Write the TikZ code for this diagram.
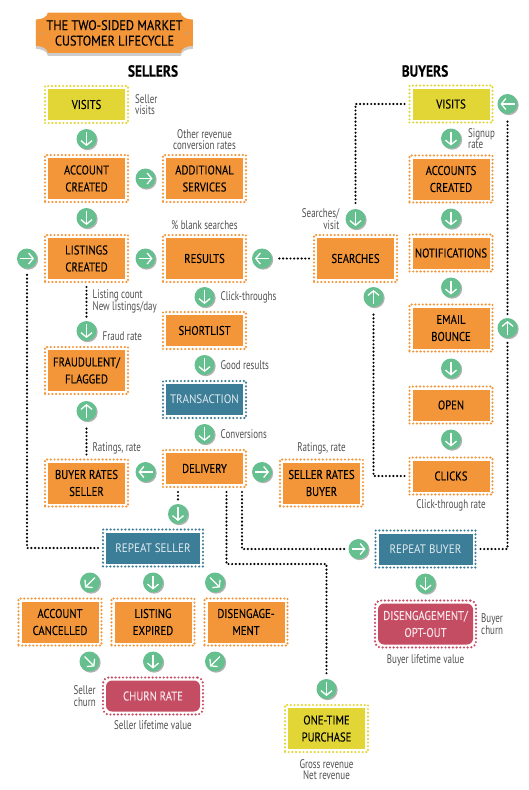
\documentclass[tikz,border=0pt]{standalone}
\usepackage{fontspec}
\usepackage{xcolor}
\usepackage{tikz}
\usetikzlibrary{arrows.meta, positioning, calc, shadows, backgrounds}
\setmainfont{PT Sans}
\newfontfamily\boxfamily[FakeStretch=0.84, FakeBold=0.12]{PT Sans}
\newfontfamily\tealfamily[FakeStretch=0.9]{PT Sans}
\newfontfamily\titlefamily[FakeStretch=0.88, FakeBold=0.12]{PT Sans}
\newfontfamily\notefamily[FakeStretch=0.72]{PT Sans}
\newcommand{\boxfont}{\boxfamily\fontsize{12.7}{17}\selectfont}
\newcommand{\tealfont}{\tealfamily\fontsize{12.3}{17}\selectfont}
\newcommand{\notefont}{\notefamily\fontsize{12.5}{11.5}\selectfont}
\definecolor{boxorange}{RGB}{243, 150, 58}
\definecolor{boxyellow}{RGB}{226, 214, 54}
\definecolor{boxteal}{RGB}{60, 125, 152}
\definecolor{churnred}{RGB}{197, 77, 99}
\definecolor{flowgreen}{RGB}{102, 191, 143}
\definecolor{notegray}{RGB}{80, 80, 80}

\begin{document}
\begin{tikzpicture}[
	x=1pt, y=1pt,
	boxbase/.style={draw=#1, line width=2.4pt, line cap=round, dash pattern=on 0pt off 3.7pt, outer sep=1pt, inner sep=0pt, minimum width=83pt, minimum height=37pt, align=center, font=\boxfont,
		path picture={\fill[#1] ($(path picture bounding box.south west)+(3,3)$) rectangle ($(path picture bounding box.north east)+(-3,-3)$);}},
	orangebox/.style={boxbase=boxorange},
	yellowbox/.style={boxbase=boxyellow},
	tealbox/.style={boxbase=boxteal, minimum width=100pt, font=\tealfont, text=white!85!boxteal},
	churnbox/.style={boxbase=churnred, minimum width=100pt, rounded corners=6pt, text=white!85!churnred},
	tall/.style={minimum height=47pt},
	flowmark/.style={circle, fill=flowgreen, minimum size=20pt, inner sep=0pt, outer sep=0pt,
		drop shadow={shadow xshift=1.2pt, shadow yshift=-1.2pt, fill=black, opacity=.3},
		path picture={\draw[white, line width=1.3pt, -{Straight Barb[length=4.5pt, width=11pt]}] ($(path picture bounding box.center)+(#1+180:7pt)$) -- ($(path picture bounding box.center)+(#1:7pt)$);}},
	dotline/.style={black, line width=2.4pt, line cap=round, dash pattern=on 0pt off 3.7pt, shorten <=4pt, shorten >=4pt},
	note/.style={font=\notefont, text=notegray, inner sep=0pt, align=center}
]
\useasboundingbox (0,0) rectangle (529,-790);

% Title
\node[font=\titlefamily\fontsize{14}{15.5}\selectfont, align=center, minimum width=157pt, minimum height=40.3pt, inner sep=0pt] (title) at (114.5,-32.9) {THE TWO-SIDED MARKET\\CUSTOMER LIFECYCLE};
\begin{scope}[on background layer]
	\fill[boxorange, drop shadow={shadow xshift=0pt, shadow yshift=-3pt, fill=black, opacity=.2}] ($(title.north west)+(12,0)$) -- ++(133,0)
		arc[start angle=180, end angle=270, x radius=12pt, y radius=7pt] -- ++(0,-26.3)
		arc[start angle=90, end angle=180, x radius=12pt, y radius=7pt] -- ++(-133,0)
		arc[start angle=0, end angle=90, x radius=12pt, y radius=7pt] -- ++(0,26.3)
		arc[start angle=270, end angle=360, x radius=12pt, y radius=7pt] -- cycle;
	\fill[black!35] ($(title.west)+(6,0)$) circle (1pt);
	\fill[black!35] ($(title.east)+(-6,0)$) circle (1pt);
\end{scope}

\node[font=\bfseries\boxfamily\fontsize{16}{16}\selectfont] (sellers) at (153,-71) {SELLERS};
\node[font=\bfseries\boxfamily\fontsize{16}{16}\selectfont] (buyers) at (425,-71) {BUYERS};

% Sellers
\node[yellowbox] (svisits) at (86.5,-104.5) {VISITS};
\node[orangebox, tall, below=30pt of svisits] (saccount) {ACCOUNT\\CREATED};
\node[orangebox, tall, right=33pt of saccount] (additional) {ADDITIONAL\\SERVICES};
\node[orangebox, tall, below=31pt of saccount] (listings) {LISTINGS\\CREATED};
\node[orangebox, tall, right=33pt of listings] (results) {RESULTS};
\node[orangebox, below=28pt of results] (shortlist) {SHORTLIST};
\node[tealbox, minimum width=83pt, below=30pt of shortlist] (transaction) {TRANSACTION};
\node[orangebox, below=30pt of transaction] (delivery) {DELIVERY};
\node[orangebox, tall, below=63pt of listings] (fraudulent) {FRAUDULENT/\\FLAGGED};
\node[orangebox, tall, left=33pt of delivery, yshift=-14.5pt] (brates) {BUYER RATES\\SELLER};
\node[orangebox, tall, right=32pt of delivery, yshift=-14.5pt] (srates) {SELLER RATES\\BUYER};
\node[tealbox] (rseller) at (153,-548) {REPEAT SELLER};
\node[orangebox, tall, below=30pt of rseller] (lexpired) {LISTING\\EXPIRED};
\node[orangebox, tall, left=8pt of lexpired] (cancelled) {ACCOUNT\\CANCELLED};
\node[orangebox, tall, right=8pt of lexpired] (disengage) {DISENGAGE-\\MENT};
\node[churnbox, below=30pt of lexpired] (churn) {CHURN RATE};
\node[yellowbox, tall] (once) at (326.5,-728.5) {ONE-TIME\\PURCHASE};

% Buyers
\node[yellowbox] (bvisits) at (451,-104) {VISITS};
\node[orangebox, tall, below=31pt of bvisits] (baccounts) {ACCOUNTS\\CREATED};
\node[orangebox, below=30pt of baccounts] (notifications) {NOTIFICATIONS};
\node[orangebox, tall, below=31pt of notifications] (bounce) {EMAIL\\BOUNCE};
\node[orangebox, below=33pt of bounce] (bopen) {OPEN};
\node[orangebox, below=32pt of bopen] (clicks) {CLICKS};
\node[tealbox, below=34pt of clicks, xshift=-25.5pt] (rbuyer) {REPEAT BUYER};
\node[churnbox, tall, minimum width=101pt, below=31pt of rbuyer] (optout) {DISENGAGEMENT/\\OPT-OUT};
\node[orangebox, tall, right=66pt of results] (searches) {SEARCHES};

% Flow marks, sellers
\node[flowmark=-90, below=5pt of svisits] (fs1) {};
\node[flowmark=-90, below=5pt of saccount] (fs2) {};
\node[flowmark=0, right=6.5pt of saccount] (fs3) {};
\node[flowmark=0, right=6.5pt of listings] (fs4) {};
\node[flowmark=0, left=7pt of listings] (fsback) {};
\node[flowmark=180, right=5pt of results] (fsearch) {};
\node[flowmark=-90, below=4pt of results] (fs5) {};
\node[flowmark=-90, above=5pt of fraudulent] (ffraud) {};
\node[flowmark=-90, below=5pt of shortlist] (fs6) {};
\node[flowmark=90, below=6pt of fraudulent] (frate) {};
\node[flowmark=-90, below=5pt of transaction] (fs7) {};
\node[flowmark=180, left=6.5pt of delivery, yshift=-3.5pt] (fs8) {};
\node[flowmark=0, right=5pt of delivery, yshift=-3.5pt] (fs9) {};
\node[flowmark=-90, below=16pt of delivery, xshift=-26.5pt] (frepeat) {};
\node[flowmark=-135, below=5pt of rseller, xshift=-63pt] (fr1) {};
\node[flowmark=-90, below=5pt of rseller] (fr2) {};
\node[flowmark=-45, below=5pt of rseller, xshift=62pt] (fr3) {};
\node[flowmark=-45, below=5pt of cancelled, xshift=29.5pt] (fc1) {};
\node[flowmark=-90, below=5pt of lexpired] (fc2) {};
\node[flowmark=-135, below=5pt of disengage, xshift=-31pt] (fc3) {};
\node[flowmark=-90, above=5pt of once] (fonce) {};

% Flow marks, buyers
\node[flowmark=-90, below=5pt of bvisits] (fb1) {};
\node[flowmark=-90, below=5pt of baccounts] (fb2) {};
\node[flowmark=-90, below=5pt of notifications] (fb3) {};
\node[flowmark=-90, below=6pt of bounce] (fb4) {};
\node[flowmark=-90, below=5pt of bopen] (fb5) {};
\node[flowmark=-90, above=5pt of searches] (fsdown) {};
\node[flowmark=90, below=4pt of searches, xshift=18pt] (fsup) {};
\node[flowmark=0, left=6pt of rbuyer] (fbuyer) {};
\node[flowmark=-90, below=5pt of rbuyer] (fb6) {};
\node[flowmark=180, right=4pt of bvisits] (ftop) {};
\node[flowmark=90] (fright) at (ftop |- bounce) {};

% Connectors
\draw[dotline] (bvisits) -| (fsdown);
\draw[dotline] (searches) -- (fsearch);
\draw[dotline] (clicks) -| (fsup);
\draw[dotline] (rbuyer) -| (fright);
\draw[dotline] (fright) -- (ftop);
\draw[dotline] (listings.south) -- (ffraud);
\draw[dotline] (brates.north) -- (frate);
\draw[dotline] (rseller) -| (fsback);
\draw[dotline] (delivery.south -| frepeat) -- (frepeat);
\coordinate (dbuyer) at ($(delivery.south east)+(-5,0)$);
\coordinate (donce) at ($(delivery.south east)+(-20.5,0)$);
\coordinate (onceturn) at (0,-564);
\draw[dotline] (dbuyer) |- (fbuyer);
\draw[dotline] (donce) |- (onceturn -| fonce) -- (fonce);

% Notes
\node[note, align=left, right=6pt of svisits] (nsvisits) {Seller\\visits};
\node[note, above=4pt of additional] (nother) {Other revenue\\conversion rates};
\node[note, above=4pt of results] (nblank) {\% blank searches};
\node[note, align=right, left=6pt of fsdown] (nsearch) {Searches/\\visit};
\node[note, align=left, right=7pt of fb1] (nsignup) {Signup\\rate};
\node[note, align=left, below right=6pt and 6pt of listings.south] (ncount) {Listing count\\New listings/day};
\node[note, right=6pt of ffraud, yshift=-5pt] (nfraud) {Fraud rate};
\node[note, right=6pt of fs5] (nclick) {Click-throughs};
\node[note, right=6pt of fs6] (ngood) {Good results};
\node[note, right=6pt of fs7] (nconv) {Conversions};
\node[note, above right=4pt and 6pt of brates.north] (nrate1) {Ratings, rate};
\node[note, above=4pt of srates] (nrate2) {Ratings, rate};
\node[note, below=4pt of clicks] (nctr) {Click-through rate};
\node[note, align=right, left=6pt of churn] (nschurn) {Seller\\churn};
\node[note, below=5pt of churn] (nslife) {Seller lifetime value};
\node[note, align=left, right=4pt of optout] (nbchurn) {Buyer\\churn};
\node[note, below=6pt of optout] (nblife) {Buyer lifetime value};
\node[note, below=6pt of once] (nrev) {Gross revenue\\Net revenue};

\end{tikzpicture}
\end{document}
